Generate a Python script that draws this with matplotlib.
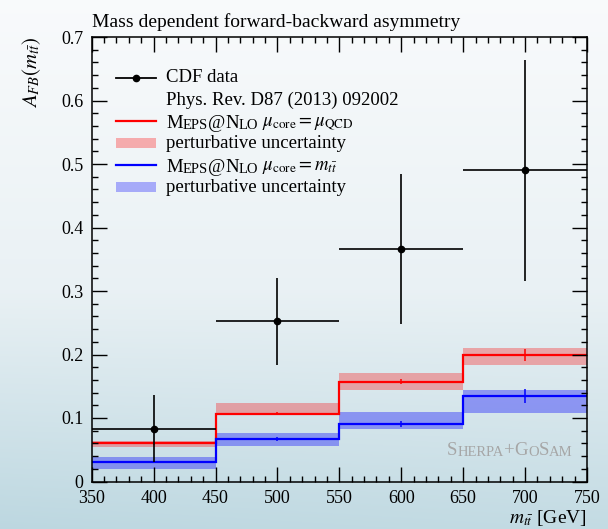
import numpy as np
import matplotlib
matplotlib.use("Agg")
import matplotlib.pyplot as plt
from matplotlib.lines import Line2D
from matplotlib.patches import Rectangle

plt.rcParams['font.family'] = 'serif'
plt.rcParams['font.serif'] = ['Liberation Serif', 'DejaVu Serif']
plt.rcParams['mathtext.fontset'] = 'stix'

# bins in m_tt [GeV]
edges = [350, 450, 550, 650, 750]
centers = [400, 500, 600, 700]

# CDF measurement, Phys. Rev. D87 (2013) 092002
cdf_val = [0.083, 0.252, 0.366, 0.490]
cdf_err = [0.053, 0.069, 0.118, 0.174]

# MEPS@NLO, mu_core = mu_QCD
red_val = [0.060, 0.107, 0.157, 0.199]
red_lo = [0.054, 0.105, 0.144, 0.183]
red_hi = [0.064, 0.123, 0.171, 0.210]
red_stat = [0.002, 0.002, 0.004, 0.009]

# MEPS@NLO, mu_core = m_tt
blue_val = [0.030, 0.067, 0.091, 0.134]
blue_lo = [0.020, 0.056, 0.082, 0.108]
blue_hi = [0.038, 0.076, 0.109, 0.144]
blue_stat = [0.001, 0.003, 0.005, 0.011]

W, H = 608, 529
fig = plt.figure(figsize=(W / 100, H / 100), dpi=100)

# soft bluish page background
bg = fig.add_axes([0, 0, 1, 1], zorder=-10)
yy = np.linspace(0, 1, 256)[:, None]
xx = np.linspace(0, 1, 256)[None, :]
top = np.array([0.975, 0.982, 0.988])
mid = np.array([0.915, 0.945, 0.958])
bot = np.array([0.740, 0.845, 0.880])
t1 = np.clip(yy / 0.55, 0, 1)
t2 = np.clip((yy - 0.55) / 0.45, 0, 1) * (1.0 - 0.15 * xx)
img = top * (1 - t1[..., None]) + mid * t1[..., None]
img = img * (1 - t2[..., None]) + bot * t2[..., None]
bg.imshow(img, aspect='auto', extent=[0, 1, 0, 1], origin='upper')
bg.set_axis_off()

def fx(px):
    return px / W

def fy(py):
    return 1 - py / H

ax_l, ax_r, ax_t, ax_b = 91.7, 587, 37, 481.5
ax = fig.add_axes([fx(ax_l), fy(ax_b), fx(ax_r - ax_l), (ax_b - ax_t) / H])
ax.set_facecolor('none')

# uncertainty bands
ax.stairs(red_hi, edges, baseline=red_lo, fill=True, color='red', alpha=0.3, lw=0)
ax.stairs(blue_hi, edges, baseline=blue_lo, fill=True, color='blue', alpha=0.35, lw=0)

# central predictions
ax.stairs(red_val, edges, baseline=None, color='red', lw=1.6)
ax.stairs(blue_val, edges, baseline=None, color='blue', lw=1.6)
ax.errorbar(centers, red_val, yerr=red_stat, fmt='none', ecolor='red', elinewidth=1.1)
ax.errorbar(centers, blue_val, yerr=blue_stat, fmt='none', ecolor='blue', elinewidth=1.1)

# data
ax.errorbar(centers, cdf_val, xerr=50, yerr=cdf_err, fmt='o', color='black',
            ms=4.5, elinewidth=1.2, capsize=0, zorder=5)

ax.set_xlim(350, 750)
ax.set_ylim(0, 0.7)
ax.set_xticks(np.arange(350, 751, 50))
ax.set_xticks(np.arange(350, 751, 10), minor=True)
ax.set_yticks(np.arange(0, 0.71, 0.1))
ax.set_yticks(np.arange(0, 0.71, 0.02), minor=True)
ax.set_yticklabels(['0', '0.1', '0.2', '0.3', '0.4', '0.5', '0.6', '0.7'])
ax.tick_params(which='both', direction='in', top=True, right=True, width=1.0,
               labelsize=13, pad=6)
ax.tick_params(which='major', length=10.5)
ax.tick_params(which='minor', length=4.5)
for s in ax.spines.values():
    s.set_linewidth(1.1)

ax.set_ylabel(r'$A_{FB}(m_{t\bar{t}})$', loc='top', fontsize=15, labelpad=13)
ax.set_xlabel(r'$m_{t\bar{t}}$ [GeV]', loc='right', fontsize=14, labelpad=1)
ax.set_title('Mass dependent forward-backward asymmetry', loc='left',
             fontsize=14, pad=7)

# small caps drawn as chained text pieces
def small_caps(x, y, parts, color='black', big=13.5, small=10.5):
    s, is_big = parts[0]
    last = fig.text(x, y, s, fontsize=big if is_big else small, color=color,
                    va='bottom')
    for s, is_big in parts[1:]:
        last = ax.annotate(s, xy=(1, 0), xycoords=last, va='bottom',
                           fontsize=big if is_big else small, color=color,
                           annotation_clip=False)
    return last

# hand-built legend
hx0, hx1, tx = 116, 156, 166
rows = [77.7, 100, 121, 143, 165, 187]
fs = 13.5

fig.add_artist(Line2D([fx(hx0), fx(hx1)], [fy(rows[0])] * 2, color='black', lw=1.3))
fig.add_artist(Line2D([fx((hx0 + hx1) / 2)], [fy(rows[0])], marker='o', ms=4.5,
                      color='black'))
fig.text(fx(tx), fy(rows[0]), 'CDF data', fontsize=fs, va='center')
fig.text(fx(tx), fy(rows[1]), 'Phys. Rev. D87 (2013) 092002', fontsize=fs, va='center')

meps = [('M', True), ('EPS', False), ('@', True), ('N', True), ('LO', False)]
for row, col, lab in [(rows[2], 'red', r' $\mu_{\rm core} = \mu_{\rm QCD}$'),
                      (rows[4], 'blue', r' $\mu_{\rm core} = m_{t\bar{t}}$')]:
    fig.add_artist(Line2D([fx(hx0), fx(hx1)], [fy(row)] * 2, color=col, lw=1.6))
    last = small_caps(fx(tx), fy(row + 11), meps, big=fs, small=10.5)
    ax.annotate(lab, xy=(1, 0), xycoords=last, va='bottom', fontsize=fs,
                annotation_clip=False)

for row, col, a in [(rows[3], 'red', 0.3), (rows[5], 'blue', 0.3)]:
    fig.add_artist(Rectangle((fx(hx0), fy(row + 4.5)), fx(hx1 - hx0), 9 / H,
                             color=col, alpha=a, lw=0))
    fig.text(fx(tx), fy(row), 'perturbative uncertainty', fontsize=fs, va='center')

small_caps(fx(447), fy(459), [('S', True), ('HERPA', False), ('+', True),
                              ('G', True), ('O', False), ('S', True), ('AM', False)],
           color='#a6a6a6', big=13.5, small=10.5)

fig.savefig('out.png', dpi=100)
